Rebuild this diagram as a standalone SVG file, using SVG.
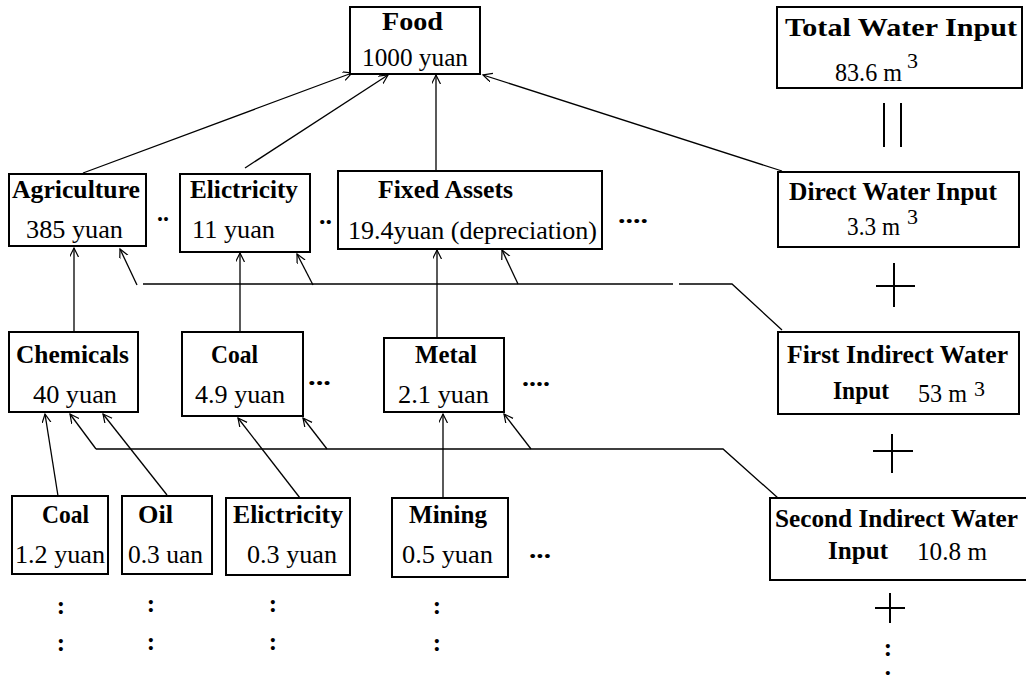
<svg xmlns="http://www.w3.org/2000/svg" width="1026" height="675" viewBox="0 0 1026 675">
<defs>
<marker id="arr" markerUnits="userSpaceOnUse" markerWidth="12" markerHeight="12" refX="9" refY="4.5" orient="auto">
<path d="M0,0 L9,4.5 L0,9" fill="none" stroke="#000" stroke-width="1.2"/>
</marker>
<style>
.box{fill:#fff;stroke:#000;stroke-width:2}
.b{font-family:"Liberation Serif","Times New Roman",serif;font-weight:bold;font-size:25px;fill:#000}
.r{font-family:"Liberation Serif","Times New Roman",serif;font-size:25px;fill:#000}
.s{font-family:"Liberation Serif","Times New Roman",serif;font-size:22px;fill:#000}
.c{fill:none;stroke:#000;stroke-width:1.3}
.a{fill:none;stroke:#000;stroke-width:1.3;marker-end:url(#arr)}
.sym{fill:none;stroke:#000;stroke-width:2}
</style>
</defs>
<rect width="1026" height="675" fill="#fff"/>

<g id="connectors">
<line class="a" x1="83" y1="173" x2="352" y2="73"/>
<line class="a" x1="245" y1="168" x2="388" y2="75"/>
<line class="a" x1="436" y1="171" x2="436" y2="75"/>
<line class="a" x1="782" y1="171" x2="483" y2="75"/>
<line class="a" x1="74" y1="332" x2="74" y2="248"/>
<line class="a" x1="240" y1="332" x2="240" y2="253"/>
<line class="a" x1="437" y1="338" x2="437" y2="250"/>
<polyline class="c" points="782,330 732,284 679,284"/>
<line class="c" x1="673" y1="284" x2="143" y2="284"/>
<line class="a" x1="137" y1="285" x2="120" y2="249"/>
<line class="a" x1="313" y1="285" x2="297" y2="254"/>
<line class="a" x1="518" y1="284" x2="502" y2="250"/>
<polyline class="c" points="778,498 723,449 96,449"/>
<line class="a" x1="96" y1="449" x2="70" y2="414"/>
<line class="a" x1="327" y1="449" x2="303" y2="418"/>
<line class="a" x1="531" y1="449" x2="504" y2="414"/>
<line class="a" x1="58" y1="496" x2="45" y2="414"/>
<line class="a" x1="167" y1="495" x2="103" y2="414"/>
<line class="a" x1="300" y1="498" x2="238" y2="418"/>
<line class="a" x1="443" y1="498" x2="443" y2="414"/>
</g>

<g id="food">
<rect class="box" x="350" y="7" width="130" height="67"/>
<text class="b" x="382" y="30" textLength="61" lengthAdjust="spacingAndGlyphs">Food</text>
<text class="r" x="362" y="66" textLength="106" lengthAdjust="spacingAndGlyphs">1000 yuan</text>
</g>

<g id="total-water">
<rect class="box" x="777" y="7" width="245" height="81"/>
<text class="b" x="785" y="36" textLength="232" lengthAdjust="spacingAndGlyphs">Total Water Input</text>
<text class="r" x="835" y="81" textLength="67" lengthAdjust="spacingAndGlyphs">83.6 m</text>
<text class="s" x="907" y="68">3</text>
</g>

<g id="agriculture">
<rect class="box" x="9" y="174" width="137" height="72"/>
<text class="b" x="12" y="198" textLength="128" lengthAdjust="spacingAndGlyphs">Agriculture</text>
<text class="r" x="26" y="238" textLength="97" lengthAdjust="spacingAndGlyphs">385 yuan</text>
</g>

<g id="electricity-1">
<rect class="box" x="180" y="174" width="130" height="78"/>
<text class="b" x="190" y="198" textLength="108" lengthAdjust="spacingAndGlyphs">Elictricity</text>
<text class="r" x="192" y="238" textLength="83" lengthAdjust="spacingAndGlyphs">11 yuan</text>
</g>

<g id="fixed-assets">
<rect class="box" x="338" y="171" width="264" height="78"/>
<text class="b" x="378" y="198" textLength="135" lengthAdjust="spacingAndGlyphs">Fixed Assets</text>
<text class="r" x="348" y="239" textLength="249" lengthAdjust="spacingAndGlyphs">19.4yuan (depreciation)</text>
</g>

<g id="direct-water">
<rect class="box" x="778" y="172" width="241" height="75"/>
<text class="b" x="789" y="200" textLength="208" lengthAdjust="spacingAndGlyphs">Direct Water Input</text>
<text class="r" x="847" y="235" textLength="53" lengthAdjust="spacingAndGlyphs">3.3 m</text>
<text class="s" x="907" y="224">3</text>
</g>

<g id="chemicals">
<rect class="box" x="9" y="332" width="129" height="80"/>
<text class="b" x="16" y="363" textLength="113" lengthAdjust="spacingAndGlyphs">Chemicals</text>
<text class="r" x="33" y="403" textLength="84" lengthAdjust="spacingAndGlyphs">40 yuan</text>
</g>

<g id="coal-1">
<rect class="box" x="182" y="332" width="121" height="84"/>
<text class="b" x="211" y="363" textLength="47" lengthAdjust="spacingAndGlyphs">Coal</text>
<text class="r" x="195" y="403" textLength="90" lengthAdjust="spacingAndGlyphs">4.9 yuan</text>
</g>

<g id="metal">
<rect class="box" x="384" y="338" width="120" height="74"/>
<text class="b" x="415" y="363" textLength="62" lengthAdjust="spacingAndGlyphs">Metal</text>
<text class="r" x="398" y="403" textLength="91" lengthAdjust="spacingAndGlyphs">2.1 yuan</text>
</g>

<g id="first-indirect">
<rect class="box" x="778" y="332" width="241" height="82"/>
<text class="b" x="787" y="363" textLength="221" lengthAdjust="spacingAndGlyphs">First Indirect Water</text>
<text class="b" x="833" y="399" textLength="56" lengthAdjust="spacingAndGlyphs">Input</text>
<text class="r" x="918" y="402" textLength="49" lengthAdjust="spacingAndGlyphs">53 m</text>
<text class="s" x="974" y="396">3</text>
</g>

<g id="coal-2">
<rect class="box" x="12" y="496" width="96" height="78"/>
<text class="b" x="42" y="523" textLength="47" lengthAdjust="spacingAndGlyphs">Coal</text>
<text class="r" x="15" y="563" textLength="90" lengthAdjust="spacingAndGlyphs">1.2 yuan</text>
</g>

<g id="oil">
<rect class="box" x="122" y="496" width="90" height="78"/>
<text class="b" x="138" y="523" textLength="35" lengthAdjust="spacingAndGlyphs">Oil</text>
<text class="r" x="128" y="563" textLength="75" lengthAdjust="spacingAndGlyphs">0.3 uan</text>
</g>

<g id="electricity-2">
<rect class="box" x="226" y="498" width="124" height="77"/>
<text class="b" x="233" y="523" textLength="110" lengthAdjust="spacingAndGlyphs">Elictricity</text>
<text class="r" x="247" y="563" textLength="90" lengthAdjust="spacingAndGlyphs">0.3 yuan</text>
</g>

<g id="mining">
<rect class="box" x="392" y="498" width="116" height="79"/>
<text class="b" x="409" y="523" textLength="78" lengthAdjust="spacingAndGlyphs">Mining</text>
<text class="r" x="402" y="563" textLength="91" lengthAdjust="spacingAndGlyphs">0.5 yuan</text>
</g>

<g id="second-indirect">
<rect class="box" x="770" y="498" width="260" height="82"/>
<text class="b" x="775" y="527" textLength="243" lengthAdjust="spacingAndGlyphs">Second Indirect Water</text>
<text class="b" x="828" y="559" textLength="60" lengthAdjust="spacingAndGlyphs">Input</text>
<text class="r" x="917" y="560" textLength="70" lengthAdjust="spacingAndGlyphs">10.8 m</text>
</g>

<g id="ellipses">
<text class="b" x="157" y="221" textLength="12" lengthAdjust="spacingAndGlyphs">..</text>
<text class="b" x="319" y="224" textLength="13" lengthAdjust="spacingAndGlyphs">..</text>
<text class="b" x="618" y="223" textLength="30" lengthAdjust="spacingAndGlyphs">....</text>
<text class="b" x="308" y="385" textLength="23" lengthAdjust="spacingAndGlyphs">...</text>
<text class="b" x="522" y="386" textLength="28" lengthAdjust="spacingAndGlyphs">....</text>
<text class="b" x="529" y="558" textLength="22" lengthAdjust="spacingAndGlyphs">...</text>
<text class="b" x="61" y="614" text-anchor="middle">:</text>
<text class="b" x="61" y="651" text-anchor="middle">:</text>
<text class="b" x="151" y="612" text-anchor="middle">:</text>
<text class="b" x="151" y="650" text-anchor="middle">:</text>
<text class="b" x="273" y="612" text-anchor="middle">:</text>
<text class="b" x="273" y="650" text-anchor="middle">:</text>
<text class="b" x="437" y="614" text-anchor="middle">:</text>
<text class="b" x="437" y="651" text-anchor="middle">:</text>
<text class="b" x="888" y="656" text-anchor="middle">:</text>
<text class="b" x="888" y="683" text-anchor="middle">:</text>
</g>

<g id="operators">
<line class="sym" x1="884" y1="103" x2="884" y2="147"/>
<line class="sym" x1="901" y1="103" x2="901" y2="147"/>
<line class="sym" x1="876" y1="286" x2="915" y2="286"/>
<line class="sym" x1="894" y1="263" x2="894" y2="307"/>
<line class="sym" x1="873" y1="451" x2="913" y2="451"/>
<line class="sym" x1="892" y1="434" x2="892" y2="473"/>
<line class="sym" x1="875" y1="608" x2="905" y2="608"/>
<line class="sym" x1="890" y1="593" x2="890" y2="623"/>
</g>
</svg>
